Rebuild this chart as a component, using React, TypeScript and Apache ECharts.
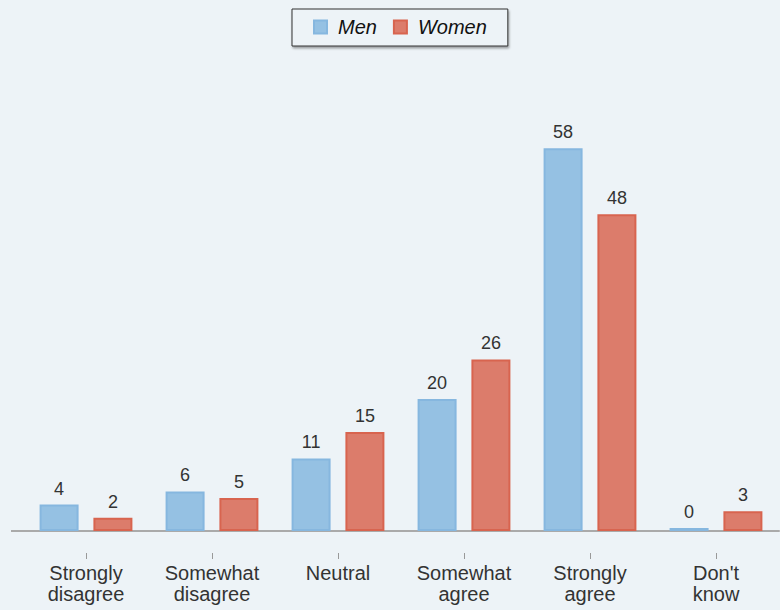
import React, { useEffect, useRef } from "react";
import * as echarts from "echarts";

const categories = ["Strongly\ndisagree", "Somewhat\ndisagree", "Neutral", "Somewhat\nagree", "Strongly\nagree", "Don't\nknow"];
const menValues = [4, 6, 11, 20, 58, 0];
const womenValues = [2, 5, 15, 26, 48, 3];

const FONT = "'Liberation Sans', Arial, Helvetica, sans-serif";

export default function App() {
  const ref = useRef<HTMLDivElement>(null);
  useEffect(() => {
    if (!ref.current) return;
    const chart = echarts.init(ref.current, null, { renderer: "svg" });
    const label = {
      show: true,
      position: "top" as const,
      distance: 7,
      color: "#333",
      fontSize: 18,
      fontFamily: FONT,
    };
    chart.setOption({
      animation: false,
      backgroundColor: "#EDF3F7",
      legend: {
        data: ["Men", "Women"],
        left: 292,
        top: 9,
        padding: [8, 21, 9, 21],
        itemWidth: 13,
        itemHeight: 13,
        itemGap: 16,
        borderColor: "#333",
        borderWidth: 1,
        backgroundColor: "#EDF3F7",
        shadowColor: "rgba(0,0,0,0.35)",
        shadowBlur: 2,
        shadowOffsetX: 1,
        shadowOffsetY: 2,
        icon: "rect",
        textStyle: {
          fontSize: 20,
          fontStyle: "italic",
          color: "#111",
          fontFamily: FONT,
          padding: [0, 0, 0, 6],
        },
      },
      grid: { left: 23, right: 1, top: 135, bottom: 79 },
      xAxis: [
        {
          type: "category",
          data: categories,
          position: "bottom",
          axisLine: { show: true, lineStyle: { color: "#AAAAAA", width: 2 } },
          axisTick: { show: false },
          axisLabel: { show: false },
        },
        {
          type: "category",
          data: categories,
          position: "bottom",
          offset: 22,
          axisLine: { show: false },
          axisTick: { show: true, length: 6, alignWithLabel: true, lineStyle: { color: "#999" } },
          axisLabel: {
            show: true,
            margin: 9,
            fontSize: 20,
            lineHeight: 21,
            color: "#333",
            fontFamily: FONT,
            interval: 0,
          },
        },
      ],
      yAxis: {
        type: "value",
        min: 0,
        max: 60,
        show: false,
        splitLine: { show: false },
      },
      graphic: [
        {
          type: "line",
          shape: { x1: 11, y1: 531, x2: 24, y2: 531 },
          style: { stroke: "#AAAAAA", lineWidth: 2 },
          z: 10,
        },
      ],
      series: [
        {
          name: "Men",
          type: "bar",
          data: menValues,
          barWidth: 39,
          barGap: "38%",
          barMinHeight: 3,
          itemStyle: { color: "#95C1E3", borderColor: "#86B7DF", borderWidth: 2 },
          label,
        },
        {
          name: "Women",
          type: "bar",
          data: womenValues,
          barWidth: 39,
          barGap: "38%",
          itemStyle: { color: "#DC7C6B", borderColor: "#D8644F", borderWidth: 2 },
          label,
        },
      ],
    });
    return () => chart.dispose();
  }, []);
  return (
    <div
      ref={ref}
      style={{ position: "fixed", left: 0, top: 0, width: 780, height: 610 }}
    />
  );
}
